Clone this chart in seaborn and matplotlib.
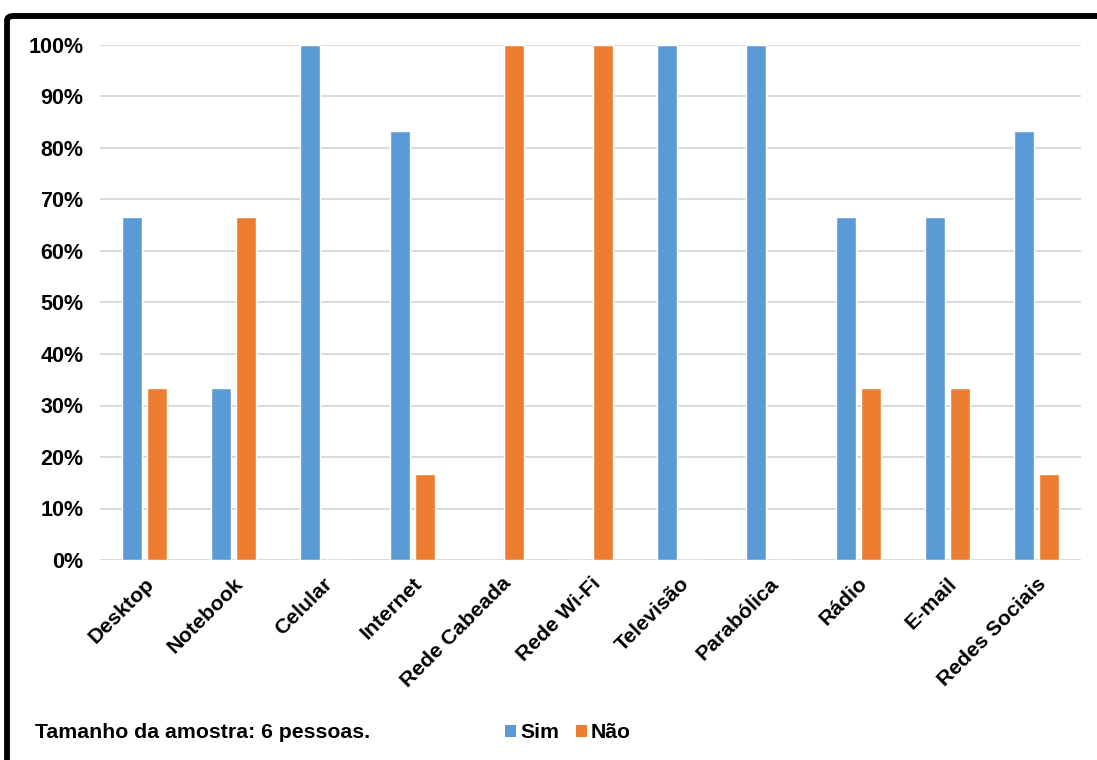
import matplotlib
matplotlib.use("Agg")
import matplotlib.pyplot as plt
import seaborn as sns
import pandas as pd
from matplotlib.patches import FancyBboxPatch, Patch
from matplotlib.ticker import PercentFormatter

categories = ["Desktop", "Notebook", "Celular", "Internet", "Rede Cabeada",
              "Rede Wi-Fi", "Televisão", "Parabólica", "Rádio", "E-mail",
              "Redes Sociais"]
sim = [66.67, 33.33, 100, 83.33, 0, 0, 100, 100, 66.67, 66.67, 83.33]
nao = [33.33, 66.67, 0, 16.67, 100, 100, 0, 0, 33.33, 33.33, 16.67]
series = ["Sim", "Não"]
colors = ["#5B9BD5", "#ED7D31"]
yticks = [0, 10, 20, 30, 40, 50, 60, 70, 80, 90, 100]
note = "Tamanho da amostra: 6 pessoas."

df = pd.DataFrame({
    "categoria": categories * 2,
    "serie": [series[0]] * len(categories) + [series[1]] * len(categories),
    "valor": sim + nao,
})

sns.set_theme(style="white")
plt.rcParams["font.family"] = ["Liberation Sans", "DejaVu Sans"]
plt.rcParams["font.weight"] = "bold"
plt.rcParams["text.color"] = "black"

W, H = 1097, 760
fig = plt.figure(figsize=(W / 100, H / 100), dpi=100)
ax = fig.add_axes([100 / W, 1 - 560 / H, (1081 - 100) / W, (560 - 45) / H])

sns.barplot(data=df, x="categoria", y="valor", hue="serie",
            palette=colors, width=0.56, gap=0.2, saturation=1,
            order=categories, hue_order=series, legend=False, ax=ax)

ax.set_ylim(0, 100)
ax.set_xlim(-0.5, len(categories) - 0.5)
ax.set_yticks(yticks)
ax.yaxis.set_major_formatter(PercentFormatter(decimals=0))
ax.yaxis.grid(True, color="#D9D9D9", linewidth=1.4)
ax.set_axisbelow(True)
for s in ax.spines.values():
    s.set_visible(False)
ax.set_xlabel("")
ax.set_ylabel("")
ax.tick_params(axis="both", length=0)
ax.tick_params(axis="y", pad=12, labelsize=15.5)
for lab in ax.get_yticklabels():
    lab.set_fontweight("bold")
    lab.set_color("black")
for lab in ax.get_xticklabels():
    lab.set_rotation(45)
    lab.set_ha("right")
    lab.set_rotation_mode("anchor")
    lab.set_fontweight("bold")
    lab.set_color("black")
    lab.set_fontsize(15.3)
ax.tick_params(axis="x", pad=10)

# outer frame of the chart area
frame = FancyBboxPatch((7 / W, -0.2), 1.2, 1 - 16 / H + 0.2,
                       boxstyle="round,pad=0,rounding_size=0.006",
                       transform=fig.transFigure, fill=False,
                       edgecolor="black", linewidth=4.2, clip_on=False)
fig.patches.append(frame)

fig.text(35 / W, 1 - 733 / H, note, fontsize=15.3, fontweight="bold",
         va="center", ha="left", color="black")

handles = [Patch(facecolor=c, edgecolor="none") for c in colors]
leg = fig.legend(handles, series, loc="center left",
                 bbox_to_anchor=(486 / W, 1 - 733 / H), ncol=2, frameon=False,
                 handlelength=0.5, handleheight=0.5, handletextpad=0.2,
                 columnspacing=0.8, prop={"size": 15.3, "weight": "bold"})
for t in leg.get_texts():
    t.set_color("black")

fig.savefig("out.png", dpi=100)
